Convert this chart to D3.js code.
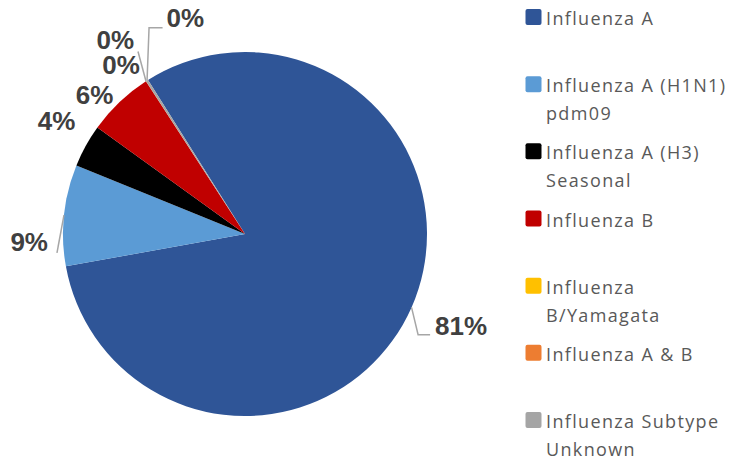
<!DOCTYPE html>
<html>
<head>
<meta charset="utf-8">
<script src="https://cdn.jsdelivr.net/npm/d3@7"></script>
<style>
  body{margin:0;background:#fff;}
</style>
</head>
<body>
<div class="pie-container"></div>
<script>
// data (percent share of positive specimens)
const subtypes = ['Influenza A','Influenza A (H1N1) pdm09','Influenza A (H3) Seasonal','Influenza B',
                  'Influenza B/Yamagata','Influenza A & B','Influenza Subtype Unknown'];
const shares = [81.2, 9.0, 3.8, 5.9, 0, 0.02, 0.2];
const colors = ['#2f5597','#5b9bd5','#000000','#c00000','#ffc000','#ed7d31','#a5a5a5'];
// legend text split into lines as in the picture
const legendLines = [['Influenza A'],['Influenza A (H1N1)','pdm09'],['Influenza A (H3)','Seasonal'],['Influenza B'],
                     ['Influenza','B/Yamagata'],['Influenza A & B'],['Influenza Subtype','Unknown']];

// label placement: radius from centre + nudge, and whether a leader line is drawn
const labelLayout = [
  {r:234, dx:2,   dy:-3,  leader:'elbowLeft'},
  {r:216, dx:-1,  dy:30,  leader:'straight'},
  {r:220, dx:4,   dy:-7,  leader:null},
  {r:205, dx:-9,  dy:9,   leader:null},
  {r:200, dx:-15, dy:-2,  leader:null},
  {r:200, dx:-21, dy:-27, leader:'straight'},
  {r:200, dx:48,  dy:-48, leader:'elbowUp'}
];

const svg_width = 739, svg_height = 464;
const cx = 245, cy = 234, radius = 182;

const svg = d3.select('.pie-container').append('svg')
  .attr('width',svg_width).attr('height',svg_height);

const data = subtypes.map((d,i)=>({name:d, value:shares[i], color:colors[i], layout:labelLayout[i]}));
const total = d3.sum(shares);

const start = -32.2*Math.PI/180;
const pie = d3.pie().sort(null).value(d=>d.value)
  .startAngle(start).endAngle(start+2*Math.PI);
const arcs = pie(data);
const arc = d3.arc().innerRadius(0).outerRadius(radius);

const g = svg.append('g').attr('transform',`translate(${cx},${cy})`);

g.selectAll('.slice')
  .data(arcs)
  .enter()
  .append('path').attr('class','slice')
  .attr('d',arc)
  .style('fill',d=>d.data.color);

// polar helper, angle 0 = 12 o'clock, clockwise
const polar = (a,r) => [r*Math.sin(a), -r*Math.cos(a)];
const midAngle = d => (d.startAngle+d.endAngle)/2;
const fmt = d3.format('.0%');

const labels = g.selectAll('.label')
  .data(arcs)
  .enter()
  .append('text').attr('class','label')
  .attr('x',d=>polar(midAngle(d),d.data.layout.r)[0]+d.data.layout.dx)
  .attr('y',d=>polar(midAngle(d),d.data.layout.r)[1]+d.data.layout.dy)
  .attr('dy','0.36em')
  .style('text-anchor','middle')
  .style('font-family','"Liberation Sans", Arial, sans-serif')
  .style('font-weight','bold')
  .style('font-size','26px')
  .style('fill','#404040')
  .text(d=>fmt(d.value/total));

// leader lines from the slice edge to the label box
labels.each(function(d){
  const lay = d.data.layout;
  if(!lay.leader) return;
  const box = this.getBBox();
  const p0 = polar(midAngle(d),radius);
  let pts;
  if(lay.leader==='elbowLeft'){
    const yb = box.y+box.height-6;
    pts = [p0,[box.x-17,yb],[box.x-5,yb]];
  } else if(lay.leader==='elbowUp'){
    const yb = box.y+box.height-5;
    pts = [p0,[p0[0]+2,yb],[box.x-4,yb]];
  } else if(d.index===1){
    pts = [p0,[box.x+box.width+9,box.y+box.height-4]];
  } else {
    pts = [p0,[box.x+box.width+4,box.y+box.height-3]];
  }
  g.append('path')
    .attr('d',d3.line()(pts))
    .style('fill','none')
    .style('stroke','#a6a6a6')
    .style('stroke-width',1.5);
});

// legend
const legend = svg.append('g').attr('class','legend')
  .attr('transform','translate(525,0)');
const rowY = d3.scalePoint().domain(subtypes).range([25,428]);

const items = legend.selectAll('.item')
  .data(data)
  .enter()
  .append('g').attr('class','item')
  .attr('transform',d=>`translate(0,${rowY(d.name)})`);

items.append('rect')
  .attr('x',0.5).attr('y',-16)
  .attr('width',16).attr('height',16)
  .attr('rx',2)
  .style('fill',d=>d.color);

items.append('text')
  .attr('x',21)
  .style('font-family','"Open Sans", sans-serif')
  .style('font-size','18px')
  .style('letter-spacing','1.35px')
  .style('fill','#595959')
  .selectAll('tspan')
  .data((d,i)=>legendLines[i])
  .enter()
  .append('tspan')
  .attr('x',21)
  .attr('y',(d,i)=>i*28)
  .text(d=>d);
</script>
</body>
</html>
